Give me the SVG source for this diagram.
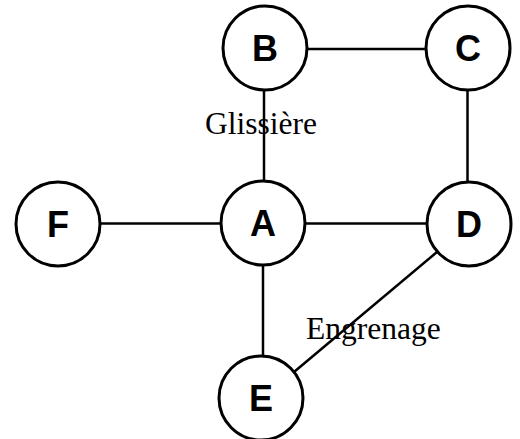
<svg xmlns="http://www.w3.org/2000/svg" width="520" height="439" viewBox="0 0 520 439">
<style>
.n circle{fill:#fff;stroke:#000;stroke-width:3}
.n text{font-family:"Liberation Sans",Arial,sans-serif;font-weight:bold;font-size:36px;text-anchor:middle;fill:#000}
.e line{stroke:#000;stroke-width:2.5}
.lbl{font-family:"Liberation Serif","Times New Roman",serif;font-size:31.5px;fill:#000}
</style>
<rect width="520" height="439" fill="#fff"/>
<g id="connectors" class="e">
<line x1="306" y1="49" x2="426" y2="49"/>
<line x1="264" y1="90" x2="264" y2="181"/>
<line x1="467.5" y1="90" x2="467.5" y2="182"/>
<line x1="100" y1="223.5" x2="221" y2="223.5"/>
<line x1="305" y1="223.5" x2="427" y2="223.5"/>
<line x1="263" y1="265" x2="263" y2="356"/>
<line x1="437" y1="252" x2="294" y2="372"/>
</g>
<text class="lbl" x="205" y="134">Glissière</text>
<text class="lbl" x="306" y="339">Engrenage</text>
<g id="B" class="n"><circle cx="265" cy="48" r="42"/><text x="265" y="61">B</text></g>
<g id="C" class="n"><circle cx="468" cy="48" r="42"/><text x="468" y="61">C</text></g>
<g id="F" class="n"><circle cx="58" cy="224" r="42"/><text x="58" y="237">F</text></g>
<g id="A" class="n"><circle cx="263" cy="223" r="42"/><text x="263" y="236">A</text></g>
<g id="D" class="n"><circle cx="469" cy="224" r="42"/><text x="469" y="237">D</text></g>
<g id="E" class="n"><circle cx="261" cy="398" r="42"/><text x="261" y="411">E</text></g>
</svg>
